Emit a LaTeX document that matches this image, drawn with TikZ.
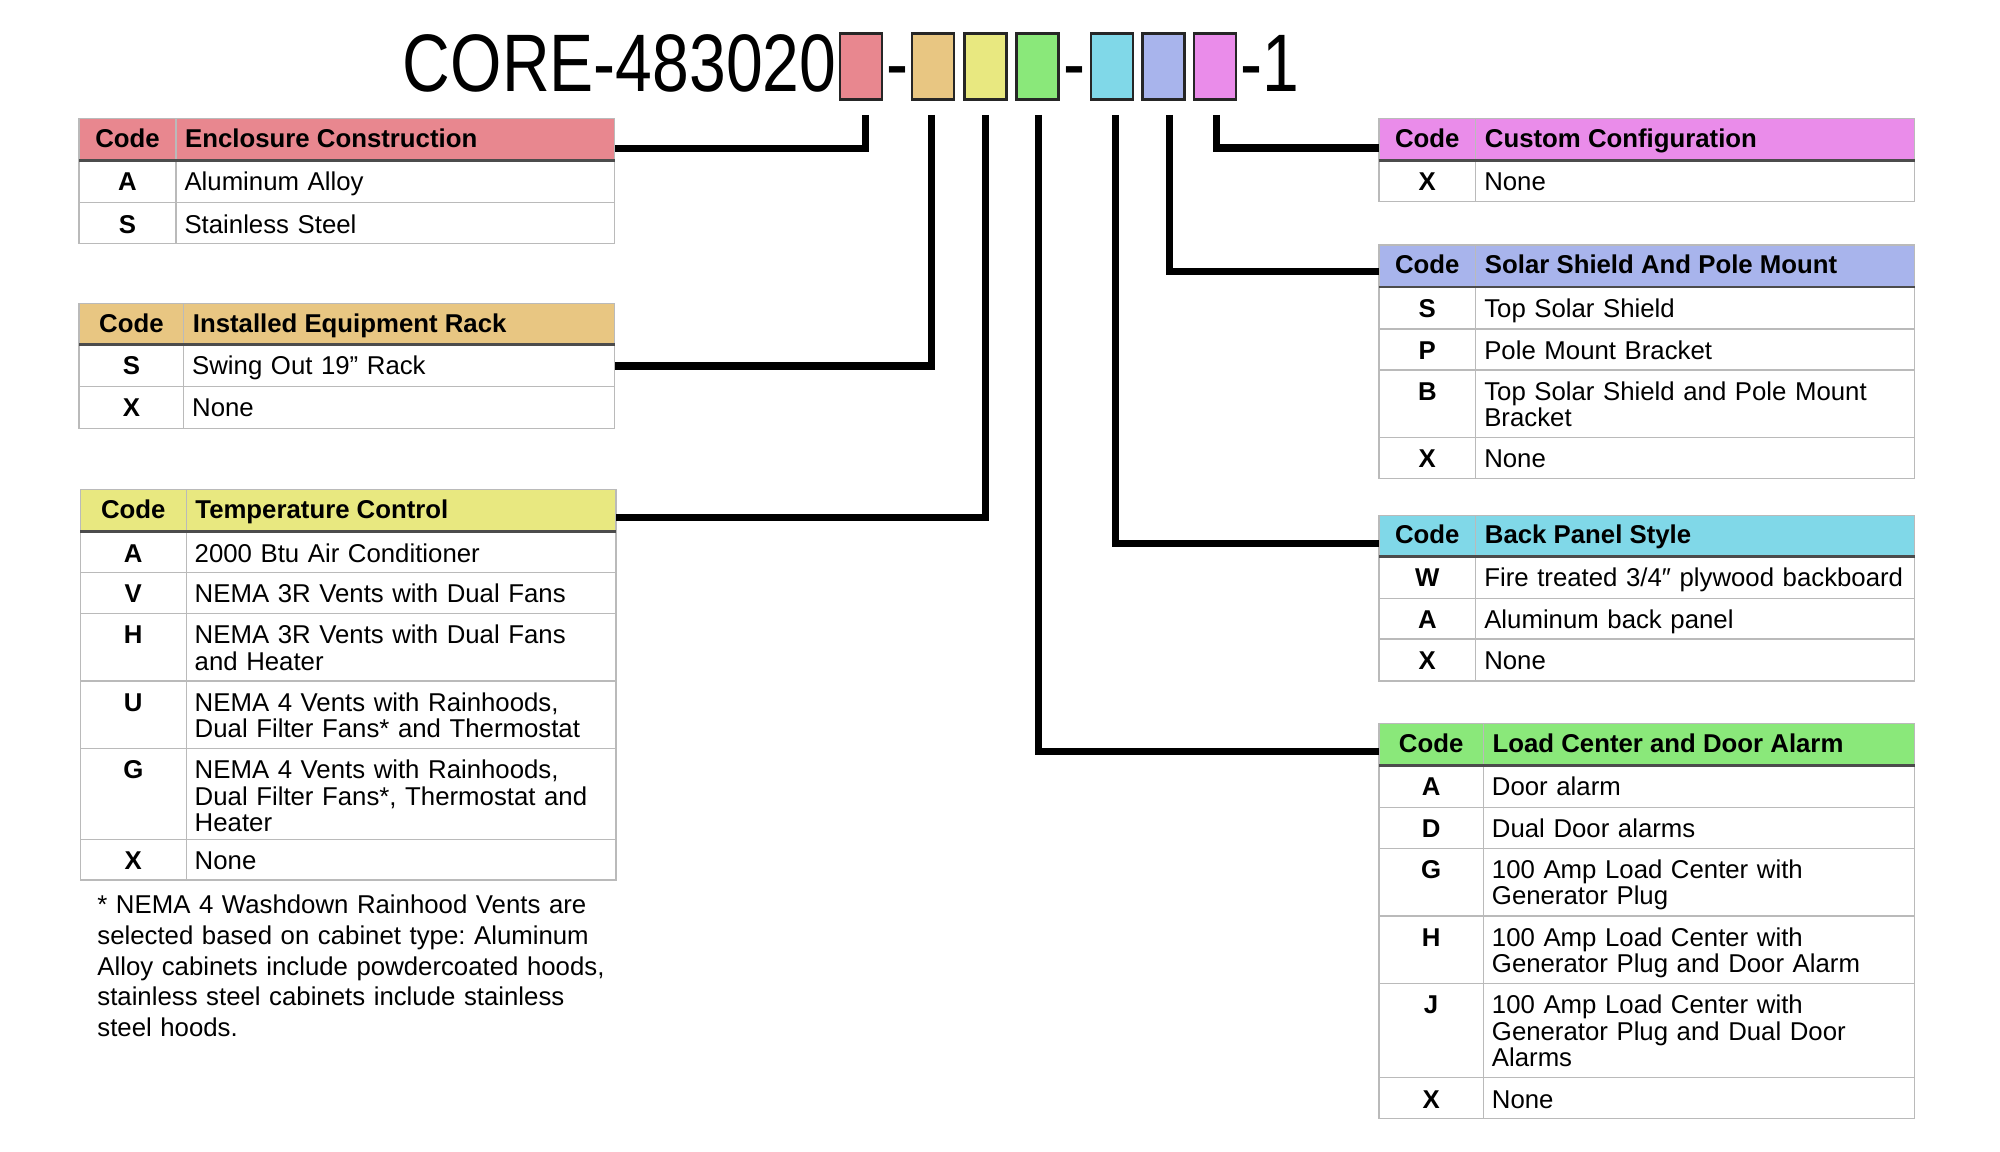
\documentclass[tikz,border=0pt]{standalone}
\usepackage{fontspec}
\setmainfont{Liberation Sans}
\usetikzlibrary{positioning}
\frenchspacing

\definecolor{encPink}{HTML}{E8878F}
\definecolor{rackTan}{HTML}{E8C682}
\definecolor{tempYel}{HTML}{E8E880}
\definecolor{loadGrn}{HTML}{8AE87A}
\definecolor{backCyan}{HTML}{80D8E8}
\definecolor{solarLav}{HTML}{A8B4EC}
\definecolor{custMag}{HTML}{EA8CEA}

\begin{document}
\begin{tikzpicture}[
  x=0.02cm, y=-0.02cm,
  wire/.style={draw=black, line width=3.2pt},
  slot/.style={
    rectangle,
    draw=black!85,
    line width=1.2pt,
    minimum width=0.66cm,
    minimum height=1.04cm,
    inner sep=0pt
  },
  partno/.style={inner sep=0pt, font=\fontsize{36.4}{40}\selectfont},
  grid/.style={draw=black!27, line width=0.6pt},
  headrule/.style={draw=black!70, line width=1.3pt},
  headtxt/.style={
    font=\fontsize{11.5}{12}\selectfont\bfseries,
    inner xsep=3.9pt, inner ysep=0pt,
    text height=8.3pt, text depth=0pt, yshift=0.02cm
  },
  codetxt/.style={
    anchor=north,
    font=\fontsize{11.5}{11.8}\selectfont\bfseries,
    inner xsep=0pt, inner ysep=5pt, text height=8.3pt
  },
  opttxt/.style={
    anchor=north west,
    text width=7.2cm, align=left,
    font=\fontsize{11.5}{11.8}\selectfont,
    inner xsep=3.6pt, inner ysep=5pt, text height=8.3pt
  },
  notetxt/.style={
    anchor=north west,
    text width=8.6cm, align=left,
    font=\fontsize{11.5}{13.7}\selectfont,
    inner sep=0pt, text height=8.3pt
  }
]
  \useasboundingbox (0,0) rectangle (1568,903);

  % part number with the option slots
  \node[partno, anchor=base east] (pn) at (656,72) {\scalebox{0.81}[1]{CORE-483020}};
  \foreach \n/\xc/\col in {1/675/encPink, 2/731.5/rackTan, 3/772.5/tempYel, 4/813.6/loadGrn,
                           5/871.8/backCyan, 6/912.4/solarLav, 7/952.6/custMag}
    \node[slot, fill=\col] (s\n) at (\xc,52) {};
  \node[partno, anchor=base] (dashA) at (703.5,72) {\scalebox{0.81}[1]{-}};
  \node[partno, anchor=base] (dashB) at (842.5,72) {\scalebox{0.81}[1]{-}};
  \node[partno, anchor=base west] (sfx) at (972,72) {\scalebox{0.81}[1]{-1}};

  % enclosure construction
  \fill[encPink] (62,93) rectangle (482,126);
  \draw[grid] (62,93) rectangle (482,126) (138,93) -- (138,126);
  \node[headtxt] (ecCode) at (100,109.5) {Code};
  \node[headtxt, anchor=west] (ecHead) at (138,109.5) {Enclosure Construction};
  \foreach \c/\t/\ya/\yb [count=\i] in {A/Aluminum Alloy/126/159, S/Stainless Steel/159/191} {
    \draw[grid] (62,\ya) rectangle (482,\yb) (138,\ya) -- (138,\yb);
    \node[codetxt] (ec\i) at (100,\ya) {\c};
    \node[opttxt] (ecOpt\i) at (138,\ya) {\t};
  }
  \draw[headrule] (62,126) -- (482,126);

  % installed equipment rack
  \fill[rackTan] (62,238) rectangle (482,270);
  \draw[grid] (62,238) rectangle (482,270) (144,238) -- (144,270);
  \node[headtxt] (erCode) at (103,254) {Code};
  \node[headtxt, anchor=west] (erHead) at (144,254) {Installed Equipment Rack};
  \foreach \c/\t/\ya/\yb [count=\i] in {S/Swing Out 19” Rack/270/303, X/None/303/336} {
    \draw[grid] (62,\ya) rectangle (482,\yb) (144,\ya) -- (144,\yb);
    \node[codetxt] (er\i) at (103,\ya) {\c};
    \node[opttxt] (erOpt\i) at (144,\ya) {\t};
  }
  \draw[headrule] (62,270) -- (482,270);

  % temperature control
  \fill[tempYel] (63,384) rectangle (483,417);
  \draw[grid] (63,384) rectangle (483,417) (146,384) -- (146,417);
  \node[headtxt] (tcCode) at (104.5,400.5) {Code};
  \node[headtxt, anchor=west] (tcHead) at (146,400.5) {Temperature Control};
  \foreach \c/\t/\ya/\yb [count=\i] in {
      A/2000 Btu Air Conditioner/417/449,
      V/NEMA 3R Vents with Dual Fans/449/481,
      H/{NEMA 3R Vents with Dual Fans\\and Heater}/481/534,
      U/{NEMA 4 Vents with Rainhoods,\\Dual Filter Fans* and Thermostat}/534/587,
      G/{NEMA 4 Vents with Rainhoods,\\Dual Filter Fans*, Thermostat and\\Heater}/587/658,
      X/None/658/690} {
    \draw[grid] (63,\ya) rectangle (483,\yb) (146,\ya) -- (146,\yb);
    \node[codetxt] (tc\i) at (104.5,\ya) {\c};
    \node[opttxt] (tcOpt\i) at (146,\ya) {\t};
  }
  \draw[headrule] (63,417) -- (483,417);
  \node[notetxt] (tcNote) at (76,701.5) {* NEMA 4 Washdown Rainhood Vents are\\
    selected based on cabinet type: Aluminum\\Alloy cabinets include powdercoated hoods,\\
    stainless steel cabinets include stainless\\steel hoods.};

  % custom configuration
  \fill[custMag] (1081,93) rectangle (1501,126);
  \draw[grid] (1081,93) rectangle (1501,126) (1157,93) -- (1157,126);
  \node[headtxt] (ccCode) at (1119,109.5) {Code};
  \node[headtxt, anchor=west] (ccHead) at (1157,109.5) {Custom Configuration};
  \draw[grid] (1081,126) rectangle (1501,158) (1157,126) -- (1157,158);
  \node[codetxt] (cc1) at (1119,126) {X};
  \node[opttxt] (ccOpt1) at (1157,126) {None};
  \draw[headrule] (1081,126) -- (1501,126);

  % solar shield and pole mount
  \fill[solarLav] (1081,192) rectangle (1501,225);
  \draw[grid] (1081,192) rectangle (1501,225) (1157,192) -- (1157,225);
  \node[headtxt] (ssCode) at (1119,208.5) {Code};
  \node[headtxt, anchor=west] (ssHead) at (1157,208.5) {Solar Shield And Pole Mount};
  \foreach \c/\t/\ya/\yb [count=\i] in {
      S/Top Solar Shield/225/258,
      P/Pole Mount Bracket/258/290,
      B/{Top Solar Shield and Pole Mount\\Bracket}/290/343,
      X/None/343/375} {
    \draw[grid] (1081,\ya) rectangle (1501,\yb) (1157,\ya) -- (1157,\yb);
    \node[codetxt] (ss\i) at (1119,\ya) {\c};
    \node[opttxt] (ssOpt\i) at (1157,\ya) {\t};
  }
  \draw[headrule] (1081,225) -- (1501,225);

  % back panel style
  \fill[backCyan] (1081,404) rectangle (1501,436);
  \draw[grid] (1081,404) rectangle (1501,436) (1157,404) -- (1157,436);
  \node[headtxt] (bpCode) at (1119,420) {Code};
  \node[headtxt, anchor=west] (bpHead) at (1157,420) {Back Panel Style};
  \foreach \c/\t/\ya/\yb [count=\i] in {
      W/{Fire treated 3/4″ plywood backboard}/436/469,
      A/Aluminum back panel/469/501,
      X/None/501/534} {
    \draw[grid] (1081,\ya) rectangle (1501,\yb) (1157,\ya) -- (1157,\yb);
    \node[codetxt] (bp\i) at (1119,\ya) {\c};
    \node[opttxt] (bpOpt\i) at (1157,\ya) {\t};
  }
  \draw[headrule] (1081,436) -- (1501,436);

  % load center and door alarm
  \fill[loadGrn] (1081,567) rectangle (1501,600);
  \draw[grid] (1081,567) rectangle (1501,600) (1163,567) -- (1163,600);
  \node[headtxt] (lcCode) at (1122,583.5) {Code};
  \node[headtxt, anchor=west] (lcHead) at (1163,583.5) {Load Center and Door Alarm};
  \foreach \c/\t/\ya/\yb [count=\i] in {
      A/Door alarm/600/633,
      D/Dual Door alarms/633/665,
      G/{100 Amp Load Center with\\Generator Plug}/665/718,
      H/{100 Amp Load Center with\\Generator Plug and Door Alarm}/718/771,
      J/{100 Amp Load Center with\\Generator Plug and Dual Door\\Alarms}/771/845,
      X/None/845/877} {
    \draw[grid] (1081,\ya) rectangle (1501,\yb) (1163,\ya) -- (1163,\yb);
    \node[codetxt] (lc\i) at (1122,\ya) {\c};
    \node[opttxt] (lcOpt\i) at (1163,\ya) {\t};
  }
  \draw[headrule] (1081,600) -- (1501,600);

  % leader lines from the slots to their tables
  \coordinate (ecIn) at (482,116.4);
  \coordinate (erIn) at (482,287);
  \coordinate (tcIn) at (483,406);
  \coordinate (lcIn) at (1081,589);
  \coordinate (bpIn) at (1081,426);
  \coordinate (ssIn) at (1081,213);
  \coordinate (ccIn) at (1081,116);
  \foreach \n/\dx/\e in {1/0.07/ecIn, 2/-0.03/erIn, 3/0/tcIn, 4/0.01/lcIn,
                         5/0.05/bpIn, 6/0.09/ssIn, 7/0.02/ccIn}
    \draw[wire] ([xshift=\dx cm, yshift=-0.22cm]s\n.south) |- (\e);
\end{tikzpicture}
\end{document}
